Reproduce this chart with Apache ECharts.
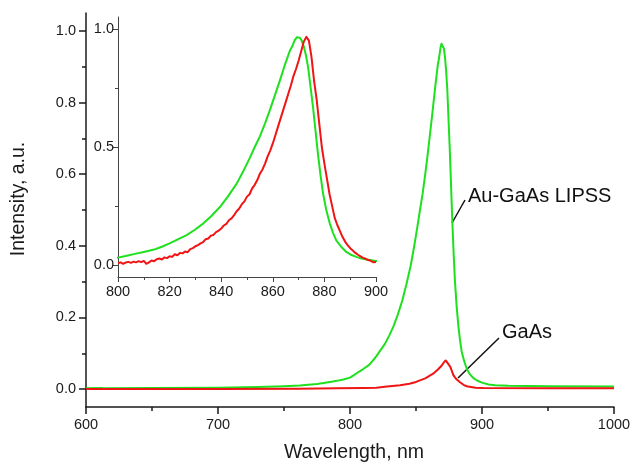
<!DOCTYPE html>
<html>
<head>
<meta charset="utf-8">
<script src="https://cdn.jsdelivr.net/npm/echarts@6/dist/echarts.min.js"></script>
<style>
  html, body { margin: 0; padding: 0; background: #fff; }
  #chart { width: 643px; height: 468px; }
</style>
</head>
<body>
<div id="chart"></div>
<script>
// Au-GaAs LIPSS emission (same curve in main plot and inset)
const greenWl = [600, 612, 613, 614, 650, 700, 730, 750, 762, 775, 780, 787, 790, 795, 800, 803, 807, 810, 814, 817, 820, 823, 826.6, 829.8, 833, 836.2, 839.5, 842.7, 846, 848.5, 851, 853, 855, 857, 858.8, 860.7, 862.7, 864.6, 866.6, 867.5, 868.5, 869.3, 869.8, 870.5, 871.2, 872, 872.8, 873.7, 875.6, 877.5, 878.5, 879.5, 880.7, 882.1, 883.3, 884.6, 886.5, 888.5, 890.5, 892.4, 894, 896.3, 900, 905, 910, 920, 950, 1000]
const greenVal = [0.002, 0.003, 0.006, 0.002, 0.003, 0.004, 0.006, 0.008, 0.010, 0.014, 0.017, 0.021, 0.023, 0.027, 0.032, 0.039, 0.049, 0.056, 0.066, 0.078, 0.092, 0.108, 0.127, 0.150, 0.176, 0.208, 0.246, 0.292, 0.345, 0.396, 0.452, 0.500, 0.545, 0.600, 0.654, 0.715, 0.780, 0.845, 0.907, 0.925, 0.952, 0.964, 0.966, 0.962, 0.950, 0.925, 0.890, 0.837, 0.668, 0.471, 0.380, 0.302, 0.235, 0.176, 0.138, 0.105, 0.078, 0.056, 0.043, 0.035, 0.029, 0.024, 0.018, 0.013, 0.011, 0.009, 0.008, 0.007]

// GaAs emission, raw (main plot)
const redWl = [600, 700, 760, 790, 810, 820, 828, 838, 845, 850, 857, 863, 867, 869.5, 871, 872.5, 874, 876, 877, 878.3, 880.5, 883.3, 886, 888.4, 895, 901, 950, 1000]
const redVal = [0.000, 0.000, 0.001, 0.002, 0.003, 0.004, 0.007, 0.011, 0.015, 0.020, 0.030, 0.043, 0.056, 0.066, 0.074, 0.080, 0.076, 0.062, 0.052, 0.039, 0.028, 0.019, 0.012, 0.008, 0.004, 0.003, 0.002, 0.002]

// GaAs emission, normalised (inset)
const redInsetWl = [800, 801, 802, 803, 804, 805, 806, 807, 808, 809, 810, 811, 811.5, 812, 813, 814, 815, 816, 817, 818, 819, 820, 821, 822, 823, 824, 825, 826, 827, 828, 829, 830, 831, 832, 833, 834, 835, 836, 837, 838, 839, 840, 841, 842, 843, 844, 845, 846, 847, 848, 849, 850, 851, 852, 853, 854, 855, 856, 857, 858, 859, 860, 861, 862, 863, 864, 865, 866, 867, 868, 869, 870, 871, 872, 873, 874, 875, 876, 877, 878, 879, 880, 881, 882, 883, 884, 885, 886, 887, 888, 889, 890, 891, 892, 893, 894, 895, 896, 897, 898, 899, 899.5, 900]
const redInsetVal = [0.008, 0.012, 0.006, 0.011, 0.014, 0.010, 0.015, 0.012, 0.017, 0.013, 0.018, 0.006, 0.000, 0.012, 0.020, 0.017, 0.025, 0.028, 0.024, 0.033, 0.030, 0.038, 0.035, 0.046, 0.042, 0.052, 0.050, 0.058, 0.055, 0.068, 0.072, 0.080, 0.085, 0.092, 0.098, 0.110, 0.113, 0.125, 0.128, 0.140, 0.146, 0.155, 0.168, 0.175, 0.190, 0.198, 0.212, 0.228, 0.240, 0.258, 0.270, 0.290, 0.300, 0.325, 0.340, 0.360, 0.387, 0.405, 0.430, 0.460, 0.485, 0.515, 0.550, 0.585, 0.620, 0.655, 0.690, 0.725, 0.760, 0.800, 0.830, 0.865, 0.905, 0.945, 0.966, 0.950, 0.880, 0.780, 0.700, 0.600, 0.500, 0.430, 0.365, 0.300, 0.250, 0.200, 0.170, 0.145, 0.120, 0.100, 0.085, 0.072, 0.062, 0.052, 0.044, 0.037, 0.031, 0.027, 0.022, 0.018, 0.012, 0.016, 0.013]

const mainYTicks = [0, 0.2, 0.4, 0.6, 0.8, 1.0]
const mainYMinor = [0.1, 0.3, 0.5, 0.7, 0.9]
const insetYTicks = [0, 0.5, 1.0]
const insetYMinor = [0.25, 0.75]

const GREEN = '#1fe01f'
const RED = '#f01414'
const FONT = 'Liberation Sans, Arial, sans-serif'

const pairs = (xs, ys) => xs.map((x, i) => [x, ys[i]])

const chart = echarts.init(document.getElementById('chart'))

const axisLine = { show: true, onZero: false, lineStyle: { color: '#1a1a1a', width: 1.5 } }
const insetLine = { show: true, onZero: false, lineStyle: { color: '#444', width: 1 } }
const label = { color: '#1a1a1a', fontSize: 14.5, fontFamily: FONT }

const line = (name, data, color, xi, yi) => ({
  name,
  type: 'line',
  xAxisIndex: xi,
  yAxisIndex: yi,
  data,
  showSymbol: false,
  clip: true,
  lineStyle: { color, width: 2, join: 'round' },
  itemStyle: { color }
})

chart.setOption({
  animation: false,
  backgroundColor: '#fff',
  grid: [
    { left: 86, right: 29, top: 13, bottom: 57 },
    { left: 118, right: 267, top: 17, bottom: 191 }
  ],
  xAxis: [
    {
      gridIndex: 0,
      type: 'value',
      position: 'bottom',
      min: 600,
      max: 1000,
      interval: 100,
      name: 'Wavelength, nm',
      nameLocation: 'middle',
      nameGap: 36,
      nameTextStyle: { color: '#1a1a1a', fontSize: 19.5, fontFamily: FONT, padding: [0, 0, 0, 8] },
      axisLine,
      axisTick: { show: true, inside: false, length: 7, lineStyle: { color: '#1a1a1a', width: 1.5 } },
      minorTick: { show: true, splitNumber: 2, length: 4, lineStyle: { color: '#1a1a1a', width: 1.5 } },
      axisLabel: { ...label, margin: 10, formatter: v => String(v) },
      splitLine: { show: false }
    },
    {
      gridIndex: 1,
      type: 'value',
      position: 'bottom',
      min: 800,
      max: 900,
      interval: 20,
      axisLine: insetLine,
      axisTick: { show: true, inside: false, length: 5, lineStyle: { color: '#444' } },
      minorTick: { show: true, splitNumber: 2, length: 3, lineStyle: { color: '#444' } },
      axisLabel: { ...label, margin: 7, formatter: v => String(v) },
      splitLine: { show: false }
    }
  ],
  yAxis: [
    {
      gridIndex: 0,
      type: 'value',
      position: 'left',
      min: -0.05,
      max: 1.05,
      name: 'Intensity, a.u.',
      nameLocation: 'middle',
      nameGap: 57,
      nameTextStyle: { color: '#1a1a1a', fontSize: 19.5, fontFamily: FONT, padding: [0, 0, 0, 22] },
      axisLine,
      axisTick: { show: true, inside: false, length: 7, customValues: mainYTicks, lineStyle: { color: '#1a1a1a', width: 1.5 } },
      axisLabel: { ...label, margin: 10, customValues: mainYTicks, formatter: v => v.toFixed(1) },
      splitLine: { show: false }
    },
    {
      gridIndex: 0,
      type: 'value',
      position: 'left',
      offset: 0,
      min: -0.05,
      max: 1.05,
      axisLine: { show: false },
      axisTick: { show: true, inside: false, length: 4, customValues: mainYMinor, lineStyle: { color: '#1a1a1a', width: 1.5 } },
      axisLabel: { show: false },
      splitLine: { show: false }
    },
    {
      gridIndex: 1,
      type: 'value',
      position: 'left',
      min: -0.05,
      max: 1.05,
      axisLine: insetLine,
      axisTick: { show: true, inside: false, length: 5, customValues: insetYTicks, lineStyle: { color: '#444' } },
      axisLabel: { ...label, margin: 4, customValues: insetYTicks, formatter: v => v.toFixed(1) },
      splitLine: { show: false }
    },
    {
      gridIndex: 1,
      type: 'value',
      position: 'left',
      offset: 0,
      min: -0.05,
      max: 1.05,
      axisLine: { show: false },
      axisTick: { show: true, inside: false, length: 3, customValues: insetYMinor, lineStyle: { color: '#444' } },
      axisLabel: { show: false },
      splitLine: { show: false }
    }
  ],
  series: [
    line('Au-GaAs LIPSS', pairs(greenWl, greenVal), GREEN, 0, 0),
    line('GaAs', pairs(redWl, redVal), RED, 0, 0),
    line('Au-GaAs LIPSS (inset)', pairs(greenWl, greenVal), GREEN, 1, 2),
    line('GaAs (inset)', pairs(redInsetWl, redInsetVal), RED, 1, 2)
  ],
  graphic: [
    { type: 'line', shape: { x1: 465, y1: 200, x2: 452, y2: 223 }, style: { stroke: '#111', lineWidth: 1.5 } },
    { type: 'text', left: 468, top: 186, style: { text: 'Au-GaAs LIPSS', fill: '#111', fontSize: 20, fontFamily: FONT } },
    { type: 'line', shape: { x1: 499, y1: 338, x2: 458, y2: 378 }, style: { stroke: '#111', lineWidth: 1.5 } },
    { type: 'text', left: 502, top: 322, style: { text: 'GaAs', fill: '#111', fontSize: 20, fontFamily: FONT } }
  ]
})
</script>
</body>
</html>
